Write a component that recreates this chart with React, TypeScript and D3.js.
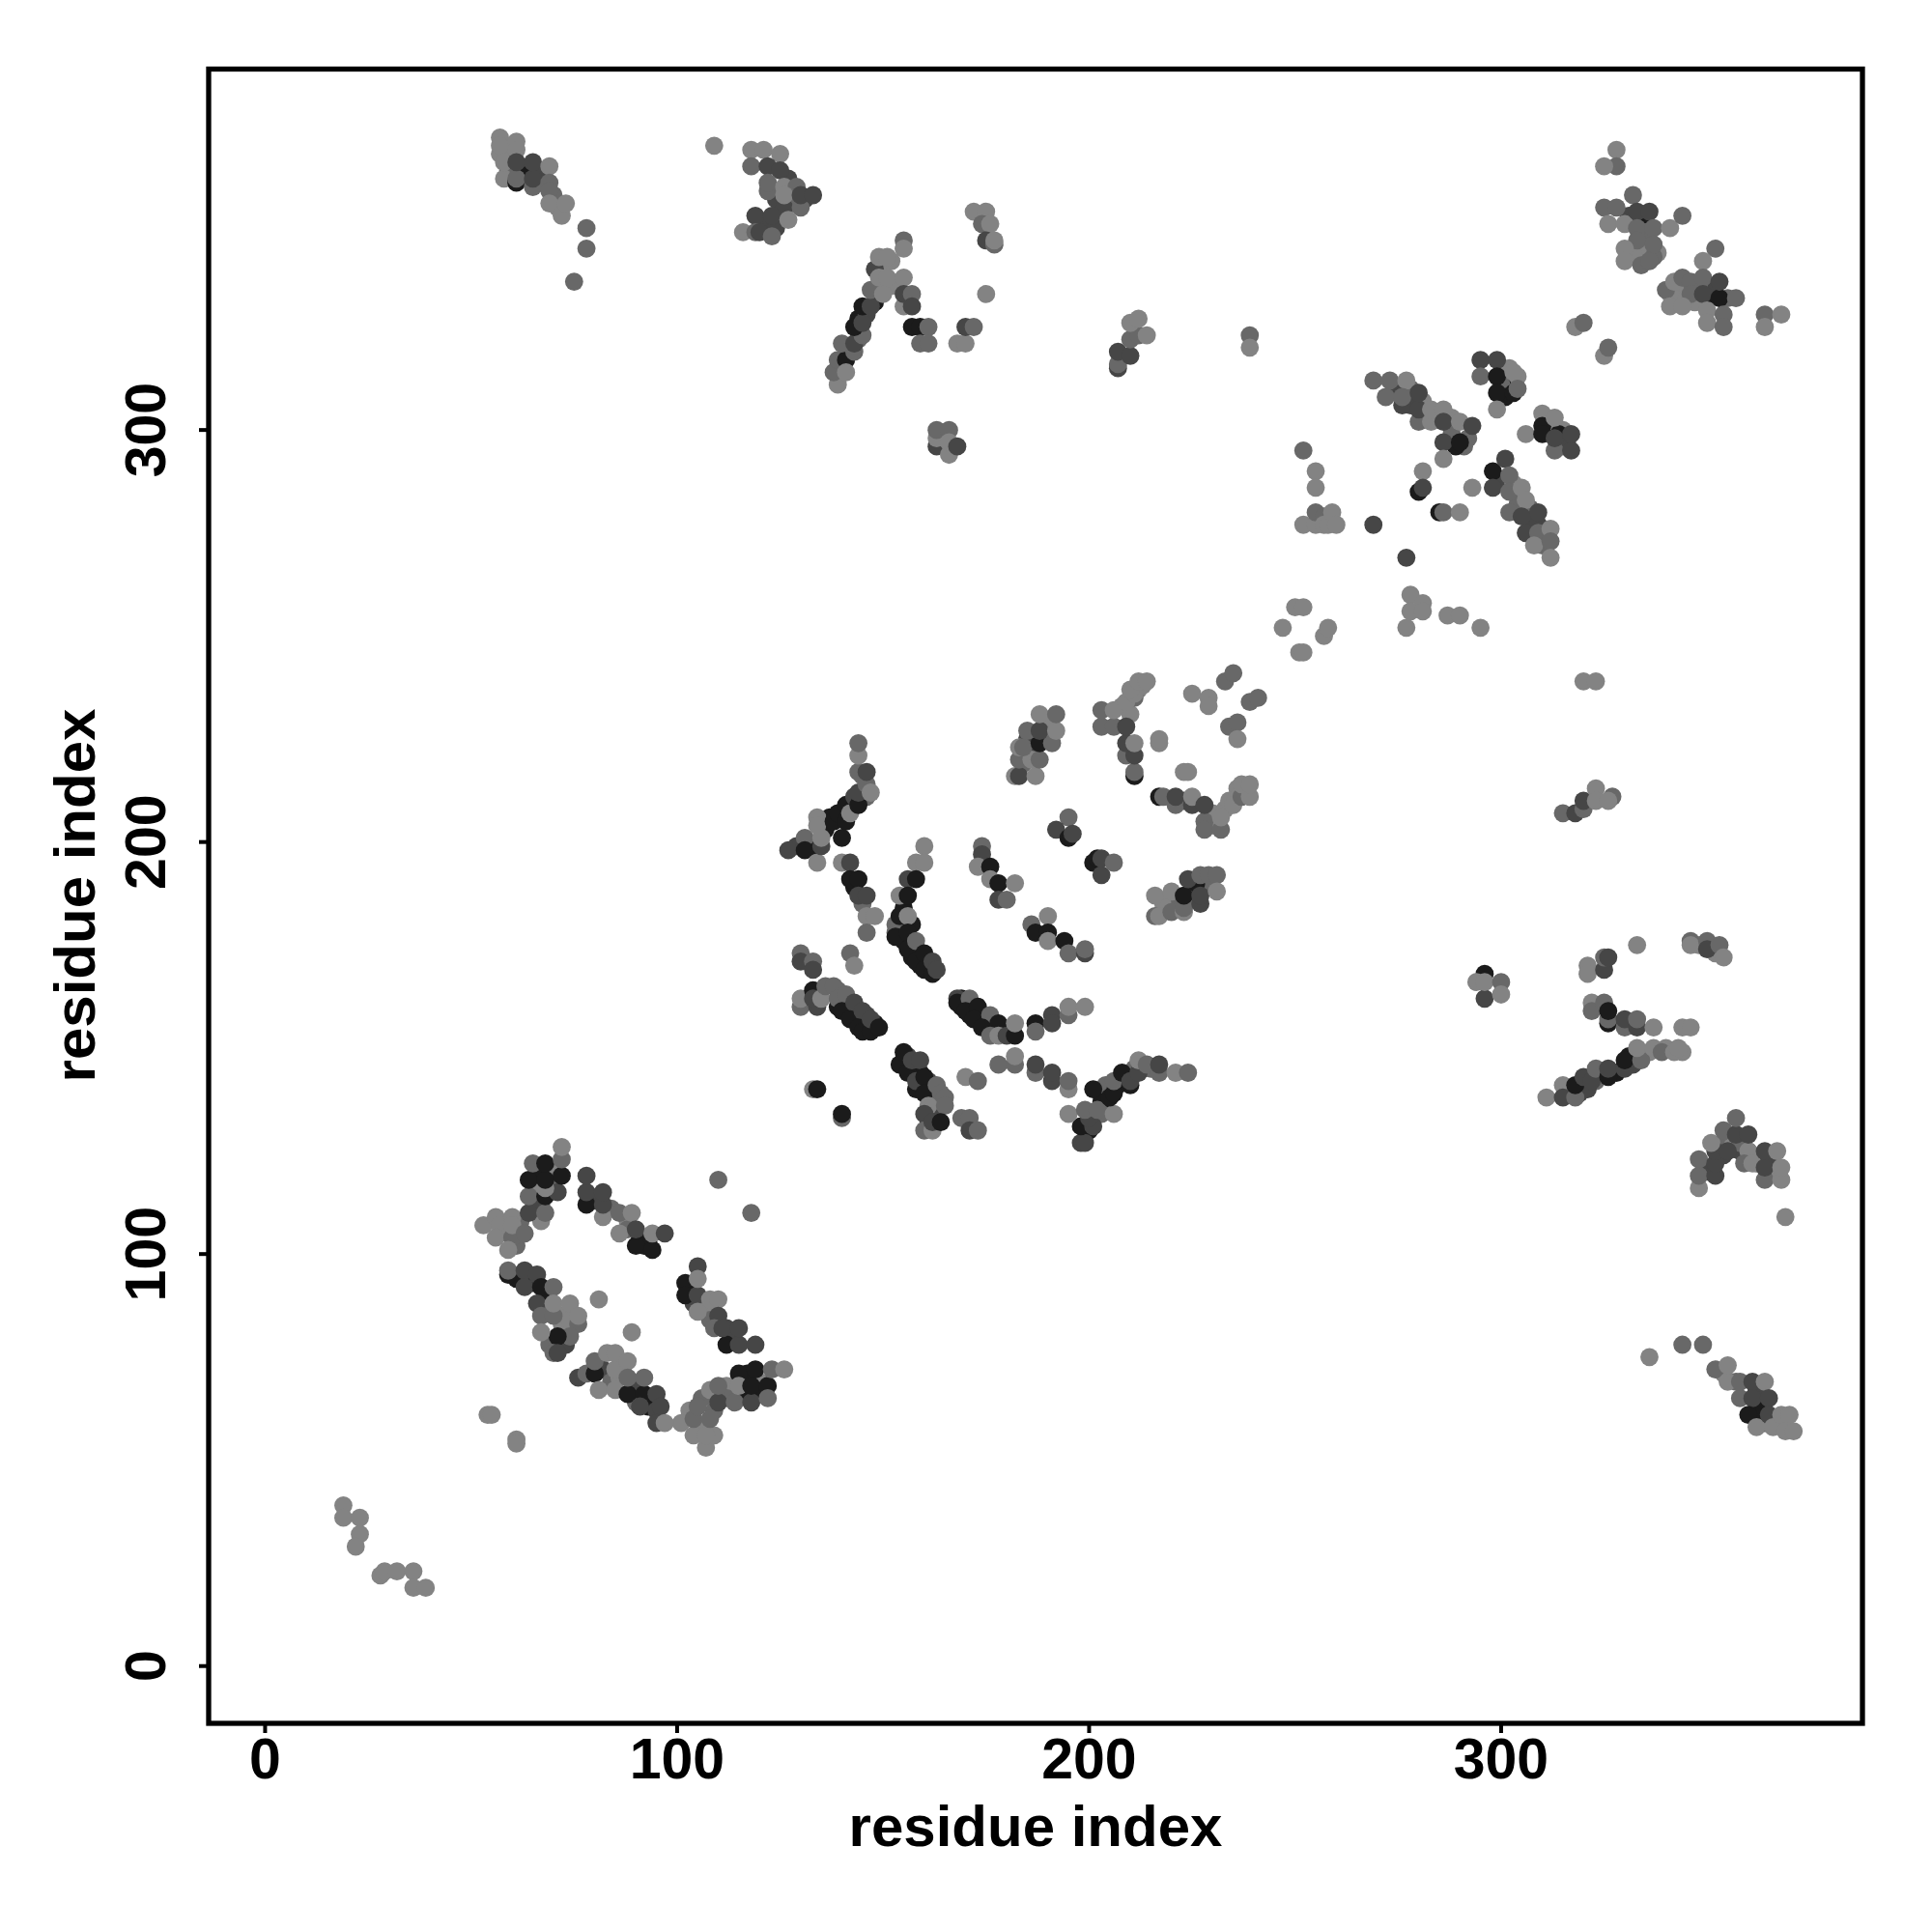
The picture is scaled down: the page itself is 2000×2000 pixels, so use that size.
import React from "react";
import * as d3 from "d3";

type P = [number, number, number];
const L = 1, M = 2, D = 3, K = 4;

const farLeft: P[] = [[19,39,L],[19,36,L],[23,36,L],[23,32,L],[22,29,L],[28,22,L],[29,23,L],[32,23,L],[36,23,L],[36,19,L],[39,19,L],[54,61,L],[55,61,L],[61,55,L],[61,54,L],[81,89,L],[89,81,L],[110,118,M],[118,110,M]];
const fillRing: P[] = [[66,120,K],[70,120,L],[70,117,M],[66,116,L],[67,112,D],[62,108,M],[58,106,L],[61,102,M],[80,113,D],[84,111,M],[88,108,L],[91,104,K],[93,103,K],[92,102,K],[88,106,M],[103,92,K],[104,88,D],[107,87,L],[108,84,M],[112,82,D],[113,79,D],[82,72,D],[84,69,M],[86,70,L],[87,73,L],[90,68,D],[90,64,M],[93,63,K],[95,62,D],[61,94,K],[65,93,K],[68,90,K],[69,86,M],[72,85,L],[72,83,L],[74,84,L],[73,78,D],[69,78,M],[103,62,L],[106,58,L],[106,65,M],[112,68,L],[117,71,K],[120,69,L],[117,66,K],[120,66,K],[112,65,M],[109,62,M]];
const ringTopLeft: P[] = [[53,107,L],[56,109,L],[57,107,L],[56,104,L],[60,104,M],[59,101,L],[60,109,L],[60,107,L],[63,105,M],[67,108,L],[64,110,D],[68,110,M],[64,114,M],[68,114,K],[71,115,D],[68,116,L],[64,118,K],[68,118,K],[72,119,K],[65,122,M],[68,122,K],[72,123,M],[72,126,L]];
const ringTopRight: P[] = [[78,112,K],[78,115,D],[78,119,D],[82,109,L],[82,112,D],[82,115,D],[86,110,M],[86,105,L],[89,110,L],[90,102,K],[94,101,K],[90,106,D],[94,105,L],[97,105,D]];
const ringRight: P[] = [[102,93,K],[102,90,K],[105,97,D],[105,90,D],[105,94,L],[105,86,L],[108,89,L],[110,89,L],[110,85,D],[109,82,M],[112,78,K],[111,82,D],[115,78,D],[115,82,D],[119,78,D]];
const ringBottomRight: P[] = [[107,53,L],[104,56,L],[109,56,L],[107,56,L],[101,59,L],[104,60,M],[108,60,M],[105,63,M],[108,67,L],[110,64,D],[110,68,M],[114,64,M],[118,64,D],[115,71,K],[119,72,K],[115,68,L],[118,68,K],[122,68,K],[122,65,M],[123,72,M],[126,72,L]];
const ringBottom: P[] = [[76,70,D],[78,71,M],[80,71,K],[80,74,M],[81,67,L],[85,67,L],[88,66,K],[85,72,L],[83,76,L],[85,76,L],[88,74,L],[88,70,M],[92,66,K],[92,70,M],[91,63,D],[95,66,D],[96,63,D],[95,59,D],[97,59,L]];
const ringLeft: P[] = [[59,95,K],[59,96,M],[63,96,D],[66,95,D],[63,92,D],[67,92,K],[66,88,D],[70,92,M],[67,85,M],[70,85,M],[70,88,L],[74,88,L],[76,83,M],[76,85,L],[74,80,M],[71,80,K],[67,81,L],[70,76,M],[71,76,D]];

const fillArcs: P[] = [[129,199,D],[133,199,K],[136,203,K],[137,206,K],[140,207,D],[142,209,K],[145,216,M],[146,211,M],[143,189,K],[145,185,M],[155,180,K],[154,179,K],[155,176,K],[157,175,K],[157,172,K],[159,170,K],[161,170,D],[153,180,M],[155,184,K],[157,180,K],[169,160,K],[171,158,K],[173,158,K],[175,156,K],[177,154,K],[179,154,M],[169,162,K],[141,161,K],[143,158,K],[146,155,K],[148,156,K],[146,158,D],[144,159,K],[142,160,D],[139,160,K],[139,164,M],[155,147,K],[156,148,D],[157,145,K],[158,146,D],[159,144,K],[161,142,D],[162,140,M],[159,141,K],[161,138,K],[163,137,M],[163,135,L],[163,133,D],[161,132,D],[203,137,K],[204,141,M],[207,141,K],[209,143,K],[211,145,M],[213,145,D],[215,145,M],[200,130,K],[201,134,M],[203,134,M]];
const arcA: P[] = [[127,198,D],[131,201,M],[131,198,K],[134,195,L],[134,206,L],[134,204,L],[135,199,D],[135,201,L],[138,205,K],[139,207,K],[140,201,K],[141,205,K],[141,209,K],[142,207,L],[143,211,D],[144,209,K],[144,212,D],[144,217,M],[144,221,L],[144,224,M],[146,214,M],[146,217,D],[147,212,L]];
const arcB: P[] = [[140,195,L],[142,195,D],[142,191,K],[144,191,K],[144,187,D],[146,187,D],[146,182,L],[148,182,L],[146,178,M],[142,173,M],[143,170,L]];
const arcC: P[] = [[160,199,L],[158,195,L],[160,195,L],[156,191,D],[158,191,K],[154,187,L],[156,187,K],[153,178,M],[153,177,K],[154,182,K],[156,182,L],[156,178,K],[156,174,K],[158,176,M],[158,171,K],[160,173,K],[160,169,K],[162,168,K],[162,171,D],[163,169,D]];
const arcD: P[] = [[168,162,D],[168,161,K],[171,162,M],[170,159,K],[173,160,K],[172,157,K],[176,158,M],[174,155,K],[178,156,K],[176,153,M],[178,153,L],[180,153,D],[182,153,K],[182,156,L],[187,156,K],[187,154,M],[191,158,D],[191,156,D],[195,158,M],[195,160,L],[199,160,L]];
const arcE: P[] = [[174,199,M],[174,197,D],[173,194,L],[176,194,K],[176,191,L],[178,190,K],[182,190,L],[178,186,D],[180,186,M],[190,182,L],[186,180,M],[187,178,K],[190,178,K],[190,176,L],[194,176,K],[195,173,M],[199,173,D],[199,174,M]];
const spots: P[] = [[195,206,M],[192,203,D],[195,201,K],[196,202,D],[201,195,K],[202,196,K],[203,192,D],[203,196,D],[206,195,M]];
const lineF: P[] = [[130,173,M],[130,171,D],[133,171,M],[133,169,D],[130,160,M],[130,162,L],[134,160,D],[133,164,K],[133,162,D],[135,162,L],[136,165,M],[138,165,M],[139,162,M],[141,163,M],[140,159,K],[143,161,D],[142,157,K],[145,159,D],[144,155,K],[145,154,K],[147,154,K],[147,157,D],[149,155,K]];
const lineG: P[] = [[154,146,K],[155,149,K],[156,144,K],[157,147,D],[159,147,D],[158,140,K],[158,142,D],[160,143,K],[160,139,K],[163,141,M],[164,139,M],[161,136,L],[165,138,M],[165,136,M],[160,134,D],[160,130,M],[162,130,L],[162,132,D],[164,132,K],[170,143,L],[173,142,M],[169,133,M],[171,133,M],[171,130,D],[173,130,M],[133,140,L],[134,140,K],[140,133,M],[140,134,K]];
const lineH: P[] = [[178,146,M],[182,146,M],[182,148,L],[187,144,M],[187,146,D],[191,142,D],[191,144,D],[195,140,L],[195,142,M]];
const vee: P[] = [[198,127,D],[199,127,D],[198,131,K],[201,131,D],[200,133,D],[195,134,L],[199,135,M],[202,135,M],[206,134,L],[201,140,K],[205,138,K],[206,139,K],[206,142,M],[208,144,K],[210,141,K],[210,142,D],[212,144,D],[212,147,L],[214,146,M],[217,144,M],[217,146,D],[221,144,L],[224,144,M]];

const fillMid: P[] = [[186,224,D],[189,226,K],[190,229,L],[190,226,L],[184,219,M],[185,225,D],[208,233,L],[212,237,L],[213,238,L],[210,231,L],[211,235,M],[230,204,L],[230,207,L],[233,208,L],[236,213,L],[238,212,L],[223,210,D],[218,185,L],[222,186,M],[225,189,D],[225,186,M],[229,189,M],[226,190,K]];
const clusterE: P[] = [[182,216,L],[183,216,D],[187,216,L],[183,220,M],[186,220,L],[188,220,M],[183,223,L],[184,223,M],[188,224,K],[191,224,M],[185,227,M],[188,227,D],[192,227,L],[188,231,L],[192,231,M]];
const clusterF: P[] = [[203,228,M],[206,228,M],[203,232,M],[206,232,L],[209,234,L],[211,236,L],[210,237,L],[212,239,L],[214,239,L],[211,216,K],[211,217,M],[209,221,M],[211,221,D],[209,224,D],[209,228,D],[211,224,L],[217,224,L],[217,225,L]];
const clusterG: P[] = [[225,236,L],[229,235,L],[229,233,L],[233,239,M],[235,241,M],[239,234,M],[241,235,M],[234,228,M],[236,229,M],[236,225,L],[223,217,L],[224,217,L],[251,246,L]];
const clusterH: P[] = [[217,211,K],[218,211,M],[221,209,M],[221,211,D],[225,209,D],[225,211,L],[228,205,M],[228,203,M],[232,203,M],[228,209,D],[232,206,L],[234,210,L],[235,209,L],[237,211,M],[237,214,L],[239,211,L],[239,214,L]];
const clusterI: P[] = [[216,182,M],[217,182,L],[216,187,L],[220,188,L],[220,183,M],[223,183,L],[223,184,M],[223,187,K],[224,191,D],[227,185,D],[227,187,D],[227,192,M],[229,192,M],[231,192,M],[231,188,L]];

const fillTop: P[] = [[142,319,D],[144,322,M],[144,327,K],[146,328,D],[148,331,K],[152,341,L],[150,340,L],[149,335,L],[152,335,L],[148,339,D],[59,363,M],[63,363,K],[67,360,K],[59,367,L],[57,367,L],[71,354,L],[67,362,D],[70,357,M],[124,356,D],[121,350,D],[124,349,D],[127,356,L],[128,355,M],[131,356,D],[127,361,D],[129,356,M]];
const topA: P[] = [[57,371,L],[57,369,L],[61,370,L],[61,368,L],[58,361,L],[58,365,L],[61,360,K],[61,361,M],[61,365,D],[65,359,M],[65,361,D],[65,365,D],[69,364,L],[69,360,M],[69,358,M],[69,355,L],[72,352,L],[73,355,L],[78,349,M],[78,344,M],[75,336,M]];
const topB: P[] = [[109,369,L],[118,368,L],[121,368,L],[125,367,L],[118,364,M],[122,364,D],[125,363,D],[122,358,M],[122,360,M],[126,359,L],[129,359,M],[126,354,D],[126,357,L],[130,354,M],[130,357,D],[133,357,D],[119,352,D],[123,352,D],[127,351,L],[116,348,L],[119,348,M],[120,348,D],[123,347,M]];
const topC: P[] = [[139,311,L],[138,314,M],[139,317,M],[141,317,K],[141,314,L],[140,321,M],[143,319,M],[143,321,D],[145,323,M],[143,325,K],[145,326,D],[145,330,K],[147,330,D],[147,334,M],[150,333,L],[149,337,L],[151,337,L],[149,342,L],[151,342,L],[155,346,M],[155,344,L],[155,337,L]];
const topD: P[] = [[155,330,L],[155,333,D],[157,333,M],[157,330,D],[157,325,K],[159,325,K],[161,325,M],[159,321,M],[161,321,M],[168,321,L],[170,321,L],[170,325,D],[172,325,M],[175,333,L]];
const topE: P[] = [[172,353,L],[175,353,L],[174,350,M],[176,350,L],[175,346,D],[177,345,M],[177,346,L]];
const cube: P[] = [[163,296,D],[163,298,L],[163,300,M],[166,300,M],[166,294,L],[166,297,L],[168,296,D]];
const pairs: P[] = [[207,315,D],[207,316,M],[207,319,D],[210,318,D],[210,322,M],[212,323,M],[210,326,L],[212,327,L],[214,323,L],[239,323,M],[239,320,L]];

const centre: P[] = [[247,252,L],[252,246,L],[250,257,L],[252,257,L],[257,250,L],[258,252,L],[252,295,M],[255,290,L],[255,286,L],[252,277,L],[255,277,L],[255,280,M],[257,279,M],[257,277,L],[258,277,L],[259,280,L],[260,277,L],[269,277,D],[277,269,D],[278,260,L],[281,258,L],[278,256,L],[277,252,L],[281,256,L],[287,255,L],[290,255,L],[295,252,L]];
const fillUpper: P[] = [[274,310,D],[278,310,M],[279,307,D],[281,307,L],[284,303,M],[288,303,L],[288,299,M],[292,298,M],[291,296,M],[289,296,K],[278,306,D],[301,312,K],[300,311,M],[304,313,L],[301,308,K],[302,315,L],[311,302,K],[312,301,L],[315,300,L],[314,299,K],[315,296,M],[316,297,D],[300,288,D],[303,287,L],[304,284,L],[307,281,M],[307,278,D],[304,282,M],[309,277,D],[310,272,M],[310,274,M],[335,351,K],[331,352,D],[335,348,M],[335,343,L],[332,343,L],[338,343,L],[337,342,M],[343,333,L],[347,331,L],[351,333,K],[351,335,D],[355,332,M],[345,335,L],[348,335,M],[341,333,L]];
const diagA: P[] = [[269,312,M],[273,312,M],[277,312,L],[272,308,M],[276,306,D],[276,308,M],[280,302,M],[280,305,D],[280,309,D],[283,302,L],[283,305,L],[286,305,L],[286,297,D],[286,302,D],[290,297,K],[290,302,L],[293,301,D],[286,293,L],[281,290,L],[280,285,K],[281,286,D],[293,286,L],[285,280,K],[286,280,M],[290,280,L]];
const crossA: P[] = [[295,317,D],[299,317,D],[295,313,M],[299,313,K],[303,314,L],[299,309,K],[299,305,L],[303,309,K],[304,310,M],[306,299,L],[310,304,L],[310,301,K],[310,299,K],[313,295,M],[313,298,D],[313,303,L],[317,295,D],[317,299,D]];
const diagB: P[] = [[298,290,K],[301,293,D],[298,286,D],[302,289,M],[302,285,M],[305,286,L],[306,283,L],[302,280,M],[305,279,D],[309,280,D],[306,275,D],[309,275,M],[308,272,L],[312,276,L],[312,273,M],[312,269,L]];
const topRight: P[] = [[328,368,L],[328,364,M],[325,364,L],[332,357,M],[325,354,M],[328,354,M],[326,350,L],[330,350,L],[333,353,D],[336,353,D],[333,349,M],[337,349,M],[333,346,M],[337,345,M],[330,344,L],[330,341,L],[334,340,M],[336,341,M],[341,349,L],[344,352,M]];
const topRightB: P[] = [[352,344,M],[349,341,L],[340,334,M],[342,336,L],[344,337,M],[346,336,M],[346,333,M],[341,330,L],[344,330,L],[349,337,M],[349,333,D],[353,332,K],[353,336,D],[357,332,M],[350,329,L],[354,328,M],[350,326,L],[354,325,M],[364,328,M],[368,328,L],[364,325,L],[318,325,L],[320,326,M],[325,318,L],[326,320,M]];
const fillRight: P[] = [[348,175,L],[352,173,L],[328,144,K],[332,146,D],[336,149,L],[340,150,L],[344,149,L],[319,139,D],[323,142,M],[331,148,K],[321,140,D],[316,139,L],[350,120,D],[352,126,D],[354,127,M],[356,126,L],[358,125,D],[362,122,M],[365,123,D],[365,120,L],[354,124,D],[360,125,D],[358,127,M],[362,67,D],[363,64,D],[362,61,K],[364,59,D],[363,62,K],[367,60,L],[354,71,L],[357,69,M]];
const rightMid: P[] = [[320,239,L],[323,239,L],[315,207,M],[318,207,D],[320,208,M],[320,210,D],[323,213,L],[323,210,L],[327,211,M],[326,210,L]];
const rightCube: P[] = [[296,168,K],[294,166,L],[296,162,D],[296,166,L],[300,166,M],[300,163,L]];
const rightTop: P[] = [[321,170,L],[321,168,L],[325,169,D],[325,172,M],[326,172,D],[333,175,L],[346,176,M],[346,175,L],[350,176,M],[350,174,D],[353,175,M],[354,172,L]];
const rightRow: P[] = [[322,161,L],[322,159,M],[325,161,M],[326,156,K],[326,157,M],[326,159,K],[330,155,M],[330,157,D],[333,155,D],[333,157,M],[337,155,L],[344,155,L],[346,155,L]];
const rightDiag: P[] = [[311,138,L],[315,141,L],[315,138,D],[318,138,M],[318,141,K],[320,143,D],[322,142,D],[323,145,M],[326,143,K],[326,145,D],[330,145,D],[330,147,K],[334,147,M],[333,150,L],[337,150,L],[339,149,M],[342,149,L],[343,150,L]];
const peak: P[] = [[348,116,L],[348,119,M],[348,123,M],[352,119,D],[352,122,D],[352,125,D],[351,127,L],[355,125,D],[354,130,M],[357,129,D],[357,133,M],[360,125,L],[360,129,D],[359,122,M],[361,122,L],[364,118,M],[364,121,D],[364,125,D],[367,125,L],[368,118,L],[368,121,L],[369,109,L]];
const bottomRight: P[] = [[336,75,L],[344,78,M],[349,78,M],[352,72,M],[355,69,L],[355,73,L],[358,65,M],[358,69,M],[361,69,D],[364,69,L],[361,65,D],[365,65,D],[360,61,K],[362,58,L],[365,61,D],[366,58,L],[368,61,L],[370,61,L],[369,57,L],[371,57,L]];

const groups: P[][] = [fillRing, fillArcs, fillMid, fillTop, fillUpper, fillRight, farLeft, ringTopLeft, ringTopRight, ringRight, ringBottomRight, ringBottom, ringLeft, arcA, arcB, arcC, arcD, arcE, spots, lineF, lineG, lineH, vee, clusterE, clusterF, clusterG, clusterH, clusterI, topA, topB, topC, topD, topE, cube, pairs, centre, diagA, crossA, diagB, topRight, topRightB, rightMid, rightCube, rightTop, rightRow, rightDiag, peak, bottomRight];

const xDomain = [-13.7, 387.7];
const yDomain = [-13.9, 387.6];
const tickValues = [0, 100, 200, 300];
const axisTitle = "residue index";
const strengthLevels = [L, M, D, K];
const strengthGreys = ["#838383", "#686868", "#464646", "#1b1b1b"];

export default function App() {
  const left = 216, right = 1928, top = 71.5, bottom = 1784;
  const x = d3.scaleLinear().domain(xDomain).range([left, right]);
  const y = d3.scaleLinear().domain(yDomain).range([bottom, top]);
  const grey = d3.scaleOrdinal<number, string>().domain(strengthLevels).range(strengthGreys);
  const base = { fontFamily: "'Liberation Sans', Arial, sans-serif", fontWeight: 700, fill: "#000" };
  return (
    <svg width={2000} height={2000} viewBox="0 0 2000 2000" style={{ position: "absolute", left: 0, top: 0, background: "#fff" }}>
      <g>
        {groups.flat().map((p, i) => (
          <circle key={i} cx={x(p[0])} cy={y(p[1])} r={9.4} fill={grey(p[2])} />
        ))}
      </g>
      <rect x={left} y={top} width={right - left} height={bottom - top} fill="none" stroke="#000" strokeWidth={5.3} />
      {tickValues.map((t) => (
        <g key={t}>
          <line x1={x(t)} x2={x(t)} y1={bottom} y2={bottom + 10} stroke="#000" strokeWidth={4} />
          <text x={x(t)} y={1841} textAnchor="middle" fontSize={59} {...base}>{t}</text>
          <line x1={left} x2={left - 10} y1={y(t)} y2={y(t)} stroke="#000" strokeWidth={4} />
          <text transform={`translate(171,${y(t)}) rotate(-90)`} textAnchor="middle" fontSize={59} {...base}>{t}</text>
        </g>
      ))}
      <text x={1072} y={1911} textAnchor="middle" fontSize={60} {...base}>{axisTitle}</text>
      <text transform="translate(98,927) rotate(-90)" textAnchor="middle" fontSize={60} {...base}>{axisTitle}</text>
    </svg>
  );
}
